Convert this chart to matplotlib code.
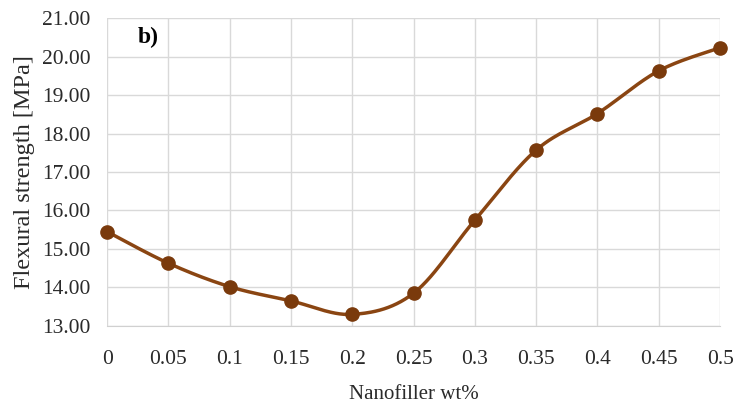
import matplotlib
matplotlib.use('Agg')
import matplotlib.pyplot as plt
import numpy as np

# nanofiller loading vs flexural strength
wt = [0, 0.05, 0.1, 0.15, 0.2, 0.25, 0.3, 0.35, 0.4, 0.45, 0.5]
strength = [15.45, 14.63, 14.02, 13.65, 13.30, 13.85, 15.75, 17.57, 18.52, 19.63, 20.23]
x_labels = ['0', '0.05', '0.1', '0.15', '0.2', '0.25', '0.3', '0.35', '0.4', '0.45', '0.5']


def smooth_curve(x, y, n=30):
    # spreadsheet-style smoothed line: cubic bezier through each point pair
    x = np.asarray(x, float)
    y = np.asarray(y, float)
    px = np.concatenate([[x[0]], x, [x[-1]]])
    py = np.concatenate([[y[0]], y, [y[-1]]])
    t = np.linspace(0, 1, n)
    xs, ys = [], []
    for i in range(1, len(px) - 2):
        p0 = np.array([px[i], py[i]])
        p3 = np.array([px[i + 1], py[i + 1]])
        p1 = p0 + (p3 - np.array([px[i - 1], py[i - 1]])) / 6
        p2 = p3 - (np.array([px[i + 2], py[i + 2]]) - p0) / 6
        b = ((1 - t) ** 3)[:, None] * p0 + (3 * (1 - t) ** 2 * t)[:, None] * p1 \
            + (3 * (1 - t) * t ** 2)[:, None] * p2 + (t ** 3)[:, None] * p3
        xs.extend(b[:, 0])
        ys.extend(b[:, 1])
    return xs, ys


plt.rcParams['font.family'] = 'Liberation Serif'
text_col = '#2a2a2a'

fig = plt.figure(figsize=(7.54, 4.11), dpi=100)
ax = fig.add_axes([0.142, 0.207, 0.813, 0.749])

sx, sy = smooth_curve(wt, strength)
ax.plot(sx, sy, color='#8a4512', lw=2.5, zorder=3, clip_on=False)
ax.plot(wt, strength, 'o', color='#7a3a0c', ms=9.5, zorder=4, clip_on=False)

ax.set_xlim(0, 0.5)
ax.set_ylim(13, 21)
ax.set_xticks(wt)
ax.set_xticklabels(x_labels)
ax.set_yticks(np.arange(13, 22, 1))
ax.set_yticklabels(['%.2f' % v for v in np.arange(13, 22, 1)])
ax.tick_params(length=0, labelsize=15.5, colors=text_col)
ax.tick_params(axis='x', pad=17)
ax.tick_params(axis='y', pad=12)

ax.grid(True, color='#d9d9d9', lw=1)
ax.set_axisbelow(True)
for s in ['top', 'right', 'left']:
    ax.spines[s].set_visible(False)
ax.spines['bottom'].set_color('#d0d0d0')

ax.set_xlabel('Nanofiller wt%', fontsize=15, color=text_col, labelpad=12)
ax.set_ylabel('Flexural strength [MPa]', fontsize=17.5, color=text_col, labelpad=5)
ax.text(0.025, 20.49, 'b)', fontsize=17, fontweight='bold', ha='left', va='center')

fig.savefig('out.png', dpi=100)
